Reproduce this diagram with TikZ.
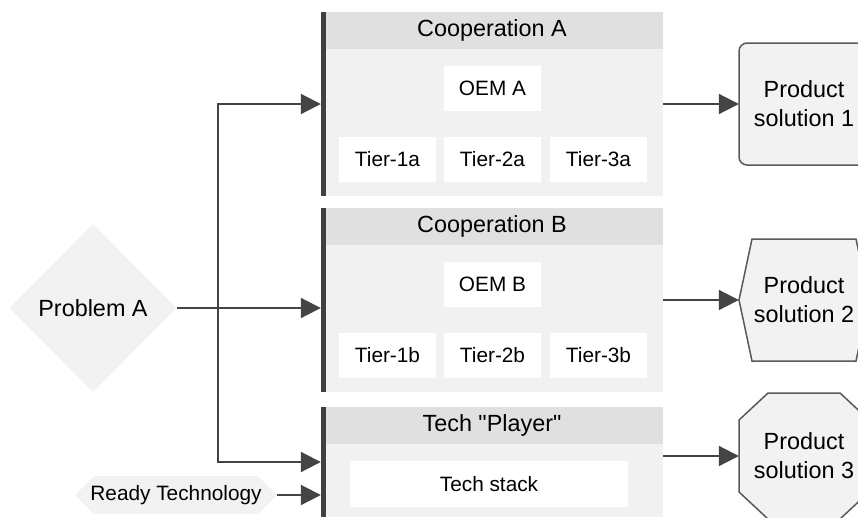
\documentclass[tikz,border=0pt]{standalone}
\usepackage{fontspec}
\setmainfont{Liberation Sans}[Ligatures=TeXOff]
\usetikzlibrary{arrows.meta,shapes.geometric}
\definecolor{hdr}{HTML}{E0E0E0}
\definecolor{bodyc}{HTML}{F1F1F1}
\definecolor{barc}{HTML}{404040}
\definecolor{linec}{HTML}{444444}
\definecolor{shapec}{HTML}{F2F2F2}
\definecolor{borderc}{HTML}{595959}
\tikzset{
  big/.style={font=\fontsize{23.4}{29}\selectfont},
  small/.style={font=\fontsize{20.8}{25}\selectfont},
  bodybox/.style={rectangle, fill=bodyc, inner sep=0, minimum width=342},
  hdrbox/.style={rectangle, fill=hdr, inner sep=0, minimum width=342, minimum height=37, big},
  whitebox/.style={rectangle, fill=white, inner sep=0, minimum width=97, minimum height=45, small},
  arr/.style={draw=linec, line width=2pt, -{Triangle[length=20pt,width=20pt]}, color=linec},
  ln/.style={draw=linec, line width=2pt},
  prodshape/.style={fill=shapec, draw=borderc, line width=1.5pt},
  prodtext/.style={big, align=center, inner sep=0, minimum width=130, minimum height=60}
}
\begin{document}
\begin{tikzpicture}[x=1pt,y=-1pt]
\useasboundingbox (0,0) rectangle (858,517);

% Cooperation A
\node[bodybox, minimum height=184] (coopA) at (492,104) {};
\node[hdrbox] (hdrA) at (492,30.5) {Cooperation A};
\fill[barc] (coopA.north west) rectangle ++(5,184);
\node[whitebox] (oemA) at (492.5,88.5) {OEM A};
\node[whitebox] (t1a) at (387.5,159.5) {Tier-1a};
\node[whitebox] (t2a) at (492.5,159.5) {Tier-2a};
\node[whitebox] (t3a) at (598.5,159.5) {Tier-3a};

% Cooperation B
\node[bodybox, minimum height=184] (coopB) at (492,300) {};
\node[hdrbox] (hdrB) at (492,226.5) {Cooperation B};
\fill[barc] (coopB.north west) rectangle ++(5,184);
\node[whitebox] (oemB) at (492.5,284.5) {OEM B};
\node[whitebox] (t1b) at (387.5,355.5) {Tier-1b};
\node[whitebox] (t2b) at (492.5,355.5) {Tier-2b};
\node[whitebox] (t3b) at (598.5,355.5) {Tier-3b};

% Tech Player
\node[bodybox, minimum height=110] (coopC) at (492,462) {};
\node[hdrbox] (hdrC) at (492,425.5) {Tech "Player"};
\fill[barc] (coopC.north west) rectangle ++(5,110);
\node[whitebox, minimum width=278, minimum height=46] (stack) at (489,484) {Tech stack};

% Problem
\node[diamond, fill=shapec, inner sep=0, minimum width=167, minimum height=168, big] (problem) at (93,308) {Problem A};
\coordinate (split) at (218,308);

% Ready technology
\fill[shapec] (75,495) -- (94,476) -- (258,476) -- (277,495) -- (258,514) -- (94,514) -- cycle;
\node[small, inner sep=0, minimum width=202, minimum height=38] (ready) at (176,495) {Ready Technology};

% Products
\node[prodshape, rectangle, rounded corners=8pt, minimum width=130, minimum height=122, inner sep=0] (prod1box) at (804,104) {};
\node[prodtext] (prod1) at (804,104) {Product\\solution 1};

\draw[prodshape] (739,300) -- (752,239) -- (856,239) -- (869,300) -- (856,361) -- (752,361) -- cycle;
\node[prodtext] (prod2) at (804,300) {Product\\solution 2};

\draw[prodshape] (739,420) -- (768,393) -- (840,393) -- (869,420) -- (869,492) -- (840,519) -- (768,519) -- (739,492) -- cycle;
\node[prodtext] (prod3) at (804,456) {Product\\solution 3};

% Connectors
\draw[arr] (problem.east) -- (problem.east -| coopB.west);
\draw[ln] (split |- coopA.west) -- (split |- coopC.west);
\draw[arr] (split) |- (coopA.west);
\draw[arr] (split) |- (coopC.west);
\draw[arr] (ready.east) -- (ready.east -| coopC.west);
\draw[arr] (coopA.east) -- (prod1.west);
\draw[arr] (coopB.east) -- (prod2.west);
\draw[arr] (coopC.east |- prod3.west) -- (prod3.west);
\end{tikzpicture}
\end{document}
